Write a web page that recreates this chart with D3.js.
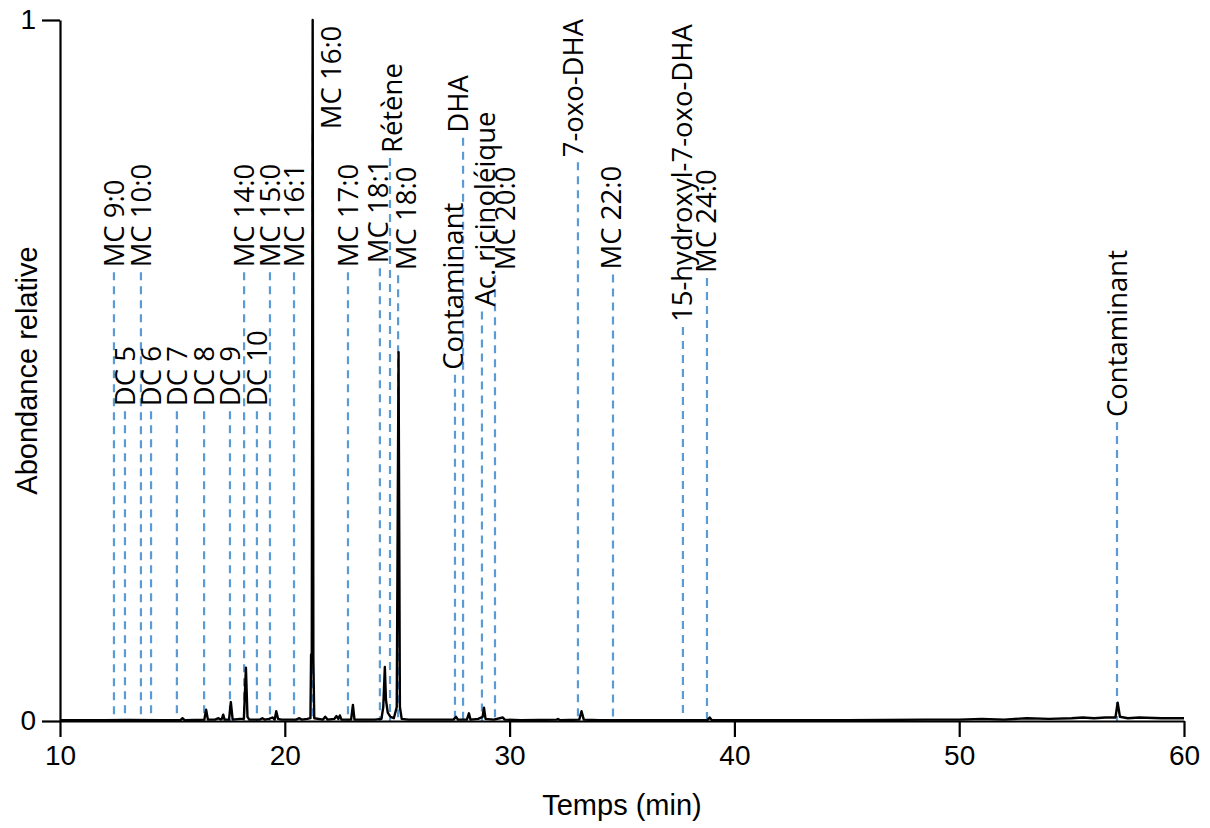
<!DOCTYPE html>
<html><head><meta charset="utf-8">
<script src="https://cdn.jsdelivr.net/npm/d3@7"></script>
<style>body{margin:0;background:#fff}</style>
</head><body>
<svg id="c" width="1210" height="828"></svg>
<script>
// Chromatogram trace (retention time in min, relative abundance)
const traceTime = [10.0,12.0,13.0,14.5,15.35,15.45,15.55,16.0,16.42,16.5,16.58,16.9,17.05,17.15,17.2,17.26,17.32,17.52,17.6,17.68,18.0,18.18,18.27,18.34,18.42,18.9,19.0,19.1,19.3,19.45,19.55,19.62,19.7,19.85,20.5,20.65,20.75,21.0,21.14,21.17,21.2,21.24,21.27,21.31,21.7,21.8,21.9,22.2,22.3,22.38,22.45,22.52,22.95,23.03,23.1,23.5,24.0,24.3,24.38,24.45,24.5,24.58,24.7,24.85,24.98,25.06,25.12,25.2,25.5,26.5,27.5,27.62,27.7,28.1,28.19,28.26,28.6,28.8,28.86,28.93,29.3,29.7,29.78,30.5,32.1,32.15,32.25,33.1,33.2,33.3,34.0,38.8,38.9,39.0,45.0,48.5,50.0,51.0,52.0,53.0,54.0,55.0,55.5,56.0,56.5,56.95,57.05,57.15,57.5,58.0,59.0,60.0];
const traceAbund = [0.001,0.001,0.0015,0.001,0.001,0.004,0.001,0.0015,0.002,0.016,0.002,0.002,0.004,0.002,0.003,0.009,0.002,0.002,0.027,0.002,0.003,0.003,0.076,0.006,0.002,0.002,0.004,0.002,0.003,0.005,0.002,0.014,0.003,0.002,0.002,0.004,0.002,0.003,0.004,0.095,0.085,1.0,0.09,0.004,0.002,0.006,0.002,0.003,0.007,0.003,0.008,0.002,0.002,0.023,0.002,0.002,0.002,0.003,0.02,0.077,0.03,0.012,0.006,0.004,0.02,0.526,0.02,0.003,0.002,0.002,0.002,0.006,0.002,0.002,0.011,0.002,0.003,0.006,0.019,0.003,0.002,0.005,0.002,0.001,0.002,0.003,0.001,0.002,0.014,0.002,0.001,0.001,0.005,0.001,0.001,0.002,0.002,0.003,0.002,0.004,0.003,0.004,0.005,0.004,0.005,0.005,0.026,0.006,0.004,0.005,0.004,0.004];

// Peak annotations: name, retention time, height of the guide top (relative abundance)
const labelNames = ["MC 9:0","DC 5","MC 10:0","DC 6","DC 7","DC 8","DC 9","MC 14:0","DC 10","MC 15:0","MC 16:1","MC 16:0","MC 17:0","MC 18:1","Rétène","MC 18:0","Contaminant","DHA","Ac. ricinoléique","MC 20:0","7-oxo-DHA","MC 22:0","15-hydroxyl-7-oxo-DHA","MC 24:0","Contaminant"];
const labelTimes = [12.40,12.89,13.60,14.05,15.20,16.41,17.56,18.19,18.76,19.34,20.41,21.24,22.81,24.23,24.68,25.04,27.57,27.93,28.77,29.35,33.04,34.60,37.71,38.78,57.02];
const labelLevels = [0.640,0.442,0.640,0.442,0.442,0.442,0.442,0.640,0.442,0.640,0.640,0.837,0.640,0.646,0.803,0.636,0.494,0.832,0.584,0.636,0.797,0.637,0.562,0.632,0.4265];
// small horizontal nudges of label text relative to its guide (px)
const labelNudge = [0,0,0,0,0,0,0,0,0,0,0,18,0,-2,2,8,-2,-5,3,10,-5,-2,-1,-1,0];

const xTicks = [10,20,30,40,50,60];
const yTicks = [0,1];
const xTitle = "Temps (min)";
const yTitle = "Abondance relative";

const svg = d3.select("#c");
const x = d3.scaleLinear().domain([10,60]).range([60,1184]);
const y = d3.scaleLinear().domain([0,1]).range([721,20]);

const labelFont = "'Open Sans', 'Noto Sans', sans-serif";
const axisFont = "'Liberation Sans', Arial, sans-serif";

// dashed guides
const ann = labelNames.map((n,i)=>({name:n,t:labelTimes[i],lv:labelLevels[i],dx:labelNudge[i]}));
svg.append("g").selectAll("line").data(ann).join("line")
  .attr("x1",d=>x(d.t)).attr("x2",d=>x(d.t))
  .attr("y1",d=>y(d.lv)).attr("y2",y(0))
  .attr("stroke","#5B9BD5").attr("stroke-width",2.2)
  .attr("stroke-dasharray","8,6");

// trace
const pts = traceTime.map((t,i)=>[t,traceAbund[i]]);
svg.append("path").datum(pts)
  .attr("d", d3.line().x(d=>x(d[0])).y(d=>y(d[1])))
  .attr("fill","none").attr("stroke","#000").attr("stroke-width",2.4)
  .attr("stroke-linejoin","round");

// labels
svg.append("g").selectAll("text").data(ann).join("text")
  .attr("transform",d=>`translate(${x(d.t)+d.dx},${y(d.lv)-5}) rotate(-90)`)
  .attr("dy","0.36em")
  .attr("text-anchor","start")
  .attr("font-family",labelFont).attr("font-size",27.5)
  .attr("fill","#000")
  .text(d=>d.name);

// axes
const gx = svg.append("g").attr("transform",`translate(0,${y(0)})`)
  .call(d3.axisBottom(x).tickValues(xTicks).tickSize(16).tickSizeOuter(0).tickPadding(8).tickFormat(d3.format("d")));
const gy = svg.append("g").attr("transform",`translate(${x(10)},0)`)
  .call(d3.axisLeft(y).tickValues(yTicks).tickSize(18).tickSizeOuter(0).tickPadding(6).tickFormat(d3.format("d")));
[gx,gy].forEach(g=>{
  g.selectAll("path,line").attr("stroke","#000").attr("stroke-width",2.2);
  g.selectAll("text").attr("font-family",axisFont).attr("font-size",28).attr("fill","#000");
});

svg.append("text").attr("x",(x(10)+x(60))/2).attr("y",815)
  .attr("text-anchor","middle").attr("font-family",axisFont).attr("font-size",29)
  .text(xTitle);
svg.append("text").attr("transform",`translate(37,${(y(0)+y(1))/2}) rotate(-90)`)
  .attr("text-anchor","middle").attr("font-family",axisFont).attr("font-size",29)
  .text(yTitle);
</script>
</body></html>
